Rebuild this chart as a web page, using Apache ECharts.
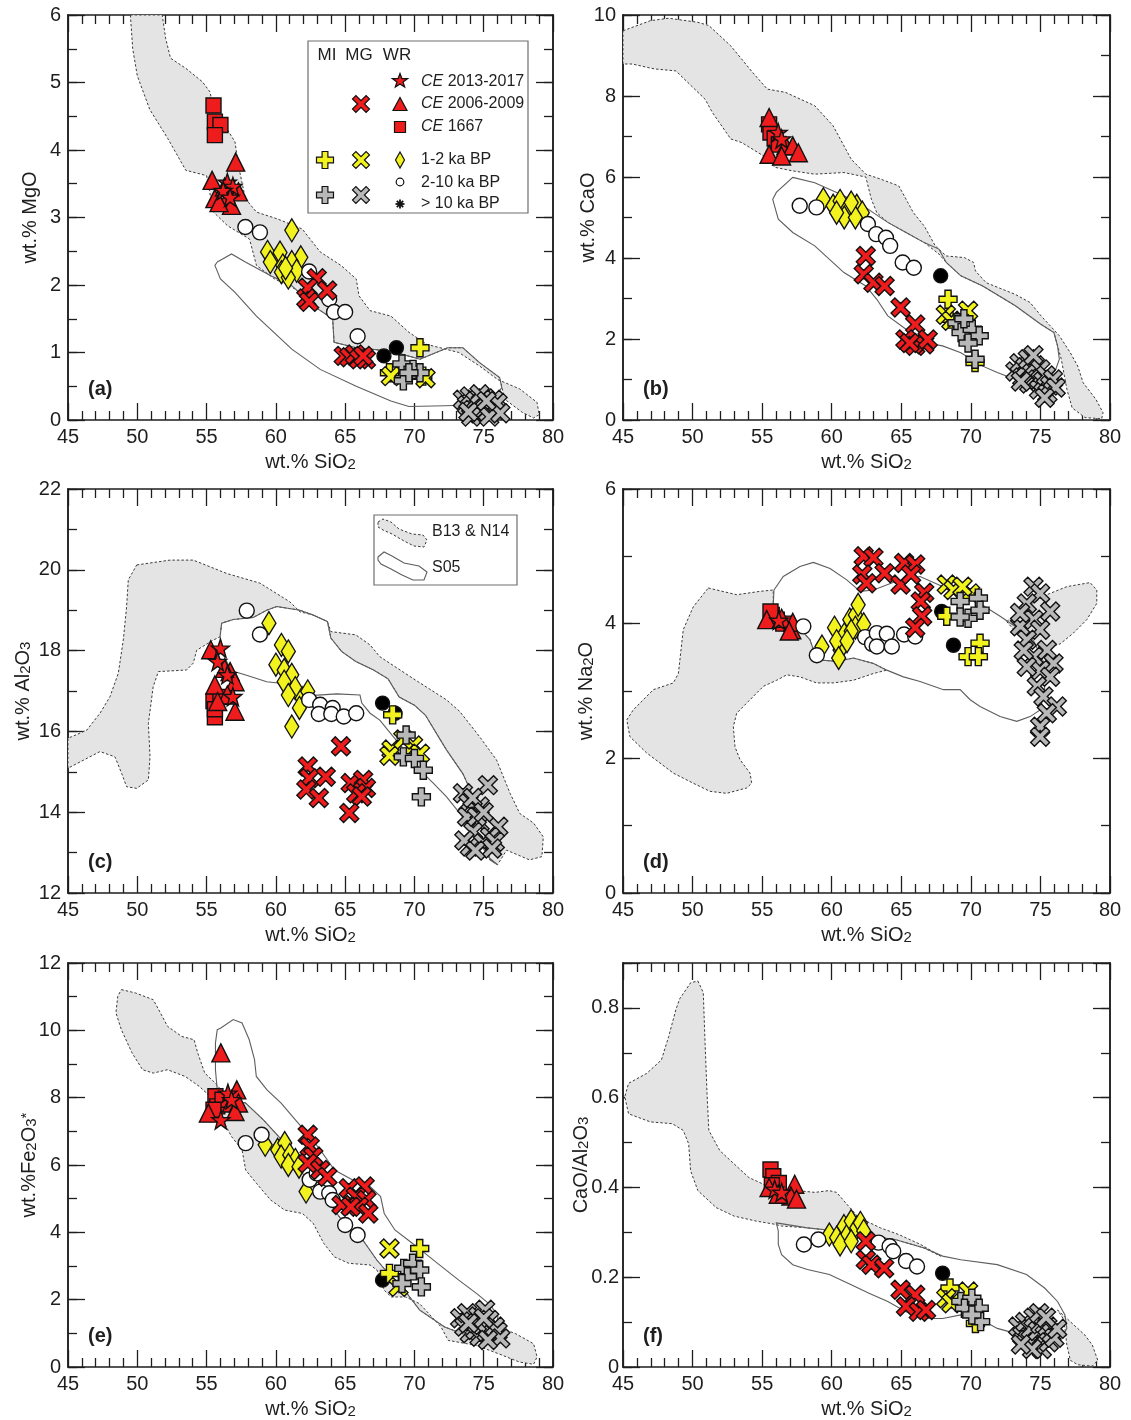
<!DOCTYPE html>
<html>
<head>
<meta charset="utf-8">
<script src="https://cdn.jsdelivr.net/npm/echarts@6/dist/echarts.min.js"></script>
<style>
html,body{margin:0;padding:0;background:#fff}
#chart{width:1131px;height:1420px}
</style>
</head>
<body>
<div id="chart"></div>
<script>
// ---------------- data (wt.% SiO2 vs oxide), one object per sample group, keyed by panel ----------------
const X_RANGE = [45, 80];

// Whole rock (WR)
const WR_CE2013 = {
  a: [[56.5,3.52],[56.9,3.46],[56.2,3.4],[56.7,3.3]],
  b: [[56.15,7.1],[56.4,6.94]],
  c: [[56.0,18.06],[56.5,17.4],[56.9,16.86],[55.8,17.73]],
  d: [[56.2,4.05]],
  e: [[56.03,7.34],[56.54,8.13],[56.8,7.94]],
  f: [[55.9,0.396],[56.4,0.389]]
};
const WR_CE2006 = {
  a: [[55.4,3.55],[57.1,3.82],[55.6,3.28],[56.3,3.45],[56.5,3.28],[56.8,3.18],[57.3,3.38],[55.9,3.22]],
  b: [[55.5,7.47],[56.7,6.77],[57.2,6.77],[57.6,6.6],[55.5,6.56],[56.4,6.52]],
  c: [[55.3,18.02],[56.7,17.48],[57.05,17.23],[55.6,17.15],[56.3,17.56],[57.05,16.5],[56.5,16.9],[55.8,16.74]],
  d: [[57.13,3.91],[57.2,4.02],[55.33,4.06],[56.4,4.08],[56.95,3.89]],
  e: [[56.03,9.33],[57.18,8.23],[56.79,7.84],[57.3,7.84],[55.13,7.54],[57.05,7.59]],
  f: [[57.34,0.407],[55.5,0.4],[57.07,0.381],[57.47,0.374],[56.16,0.385]]
};
const WR_CE1667 = {
  a: [[55.5,4.66],[55.6,4.42],[56.0,4.37],[55.6,4.22]],
  b: [[55.5,7.3],[55.6,7.1],[55.9,6.95],[56.2,6.8]],
  c: [[55.5,16.75],[55.6,16.35],[56.0,16.85],[55.6,16.55]],
  d: [[55.69,4.13],[56.05,4.06],[56.52,4.0],[55.6,4.18]],
  e: [[55.64,8.04],[55.77,7.74],[56.15,7.94],[55.5,7.64]],
  f: [[55.6,0.44],[55.8,0.425],[56.2,0.41],[55.7,0.405]]
};
const WR_1_2KA = {
  a: [[61.15,2.81],[59.4,2.49],[60.3,2.48],[61.8,2.41],[59.6,2.34],[60.5,2.29],[61.15,2.34],[60.4,2.19],[61.5,2.21],[60.9,2.11],[60.7,2.25]],
  b: [[59.4,5.45],[60.1,5.29],[60.6,5.41],[61.1,5.2],[61.8,5.29],[62.2,5.12],[60.9,5.0],[61.7,5.0],[60.35,5.12],[61.4,5.37]],
  c: [[59.5,18.68],[60.4,18.14],[60.9,17.98],[60.0,17.65],[60.6,17.52],[61.15,17.4],[60.6,17.23],[61.4,17.07],[60.9,16.9],[61.9,16.82],[61.7,16.58],[62.3,16.99],[61.15,16.12]],
  d: [[59.3,3.66],[60.2,3.94],[60.6,3.61],[60.9,3.84],[61.3,4.06],[61.7,4.13],[61.7,3.94],[61.9,4.28],[62.3,3.99],[61.4,3.89],[60.35,3.74],[61.1,3.74],[60.5,3.49]],
  e: [[59.23,6.6],[60.13,6.45],[60.64,6.65],[60.38,6.25],[61.0,6.3],[61.41,6.15],[60.9,6.0],[61.67,5.95],[62.18,5.21]],
  f: [[59.83,0.295],[60.35,0.288],[60.88,0.314],[61.14,0.295],[61.4,0.325],[61.8,0.31],[62.06,0.321],[62.3,0.303],[60.6,0.273],[61.4,0.28]]
};
const WR_2_10KA = {
  a: [[57.8,2.86],[58.85,2.78],[62.4,2.2],[63.85,1.79],[64.2,1.6],[65.0,1.6],[65.9,1.24]],
  b: [[57.7,5.29],[58.9,5.25],[62.6,4.84],[63.2,4.59],[63.9,4.5],[64.2,4.3],[65.1,3.89],[65.9,3.76]],
  c: [[57.9,18.99],[58.85,18.4],[62.4,16.78],[63.2,16.66],[63.1,16.43],[64.1,16.58],[64.0,16.43],[64.9,16.37],[65.8,16.45]],
  d: [[57.96,3.96],[58.93,3.53],[62.4,3.8],[62.9,3.7],[63.24,3.86],[63.96,3.85],[63.24,3.66],[64.32,3.66],[65.2,3.84],[66.0,3.81]],
  e: [[57.82,6.65],[58.97,6.9],[62.44,5.56],[62.95,5.75],[63.2,5.21],[63.85,5.16],[64.1,4.96],[65.0,4.22],[65.9,3.92]],
  f: [[58.0,0.273],[59.04,0.284],[63.37,0.277],[64.16,0.269],[64.42,0.258],[65.34,0.236],[66.13,0.224]]
};
const WR_10KA = {
  a: [[67.8,0.95],[68.7,1.07]],
  b: [[67.83,3.56]],
  c: [[67.7,16.7],[68.6,16.45]],
  d: [[67.9,4.18],[68.75,3.68]],
  e: [[67.7,2.58]],
  f: [[67.97,0.209]]
};
// Matrix glass (MG)
const MG_CE2006 = {
  a: [[62.95,2.1],[62.3,1.96],[63.7,1.92],[62.2,1.8],[62.4,1.75],[64.9,0.95],[65.3,0.93],[65.7,0.97],[66.0,0.9],[66.5,0.9],[66.3,0.95]],
  b: [[62.45,4.05],[62.3,3.6],[63.0,3.39],[63.8,3.31],[64.95,2.78],[66.0,2.36],[65.3,1.99],[66.0,1.83],[66.65,1.87],[66.9,1.99],[65.6,1.9]],
  c: [[64.7,15.63],[62.3,15.13],[62.4,14.84],[63.6,14.88],[62.2,14.56],[63.1,14.35],[65.4,14.72],[66.3,14.8],[66.5,14.6],[65.8,14.47],[66.2,14.39],[65.3,13.98]],
  d: [[62.3,5.0],[63.0,4.98],[62.2,4.73],[63.8,4.75],[62.5,4.6],[65.2,4.9],[66.0,4.88],[64.95,4.58],[65.7,4.73],[66.65,4.46],[66.4,4.33],[66.5,4.11],[66.0,3.94]],
  e: [[62.3,6.9],[62.44,6.55],[62.7,6.25],[62.3,6.05],[63.2,5.85],[63.72,5.65],[65.26,5.31],[66.41,5.36],[64.74,4.81],[65.77,5.06],[66.54,4.96],[66.0,4.76],[66.67,4.56],[65.4,4.76]],
  f: [[62.45,0.28],[62.45,0.239],[62.85,0.228],[63.77,0.22],[64.95,0.172],[66.0,0.161],[65.34,0.135],[66.26,0.123],[66.78,0.127]]
};
const MG_1_2KA = {
  a: [[68.3,0.65],[70.8,0.62]],
  b: [[68.2,2.6],[68.6,2.45],[69.8,2.7]],
  c: [[68.35,15.55],[68.2,15.4],[69.9,15.65],[70.4,15.45],[69.2,15.8]],
  d: [[68.27,4.58],[68.75,4.5],[69.95,4.45],[69.4,4.55]],
  e: [[68.2,3.52],[68.85,2.38]],
  f: [[68.23,0.153],[68.6,0.142],[69.8,0.168]]
};
const MG_OLD = {
  a: [[73.5,0.3],[73.8,0.22],[74.0,0.35],[74.2,0.15],[74.4,0.28],[74.6,0.1],[74.8,0.25],[75.0,0.18],[75.1,0.32],[75.3,0.12],[75.5,0.22],[75.7,0.3],[75.9,0.15],[76.0,0.25],[74.1,0.05],[75.4,0.05],[73.9,0.12],[74.7,0.38],[76.2,0.1],[75.2,0.28]],
  b: [[73.2,1.2],[73.5,1.4],[73.7,1.05],[73.9,1.3],[74.1,1.5],[74.2,0.9],[74.4,1.15],[74.6,1.35],[74.8,1.0],[74.9,0.75],[75.0,1.25],[75.2,0.95],[75.4,1.1],[75.5,0.65],[75.7,0.85],[75.9,1.0],[76.1,0.8],[74.5,1.6],[75.3,0.55],[73.6,0.95]],
  c: [[75.3,14.67],[73.5,14.47],[73.9,14.22],[74.7,14.14],[73.8,13.89],[74.7,13.73],[76.05,13.64],[75.45,13.39],[74.25,13.52],[74.0,13.15],[74.96,13.23],[75.8,13.27],[74.5,13.89],[74.2,14.35],[75.0,14.0],[73.6,13.3],[75.6,13.1],[74.4,13.05]],
  d: [[74.5,4.55],[74.98,4.45],[74.02,4.3],[75.7,4.18],[74.5,4.06],[73.54,3.96],[74.98,3.91],[74.02,3.76],[75.46,3.61],[74.5,3.51],[75.94,3.41],[74.98,3.31],[74.02,3.36],[75.7,3.21],[74.74,3.07],[75.22,2.92],[76.18,2.77],[75.46,2.67],[74.98,2.47],[74.98,2.32],[73.54,4.16],[73.8,3.6]],
  e: [[73.3,1.45],[73.6,1.2],[73.8,1.6],[74.0,1.0],[74.2,1.35],[74.4,1.1],[74.6,1.5],[74.7,0.9],[74.9,1.25],[75.1,1.7],[75.2,1.05],[75.4,1.4],[75.6,0.95],[75.8,1.2],[76.0,1.05],[76.2,0.85],[74.5,1.3],[75.0,1.45],[75.3,0.8],[73.9,1.3]],
  f: [[73.4,0.09],[73.7,0.07],[73.9,0.1],[74.1,0.06],[74.3,0.085],[74.5,0.11],[74.6,0.05],[74.8,0.08],[75.0,0.095],[75.1,0.04],[75.3,0.07],[75.5,0.09],[75.6,0.055],[75.8,0.075],[76.0,0.065],[76.2,0.085],[74.4,0.04],[74.9,0.12],[75.4,0.11],[73.6,0.05]]
};
// Melt inclusions (MI)
const MI_1_2KA = {
  a: [[70.4,1.07],[68.2,0.7],[70.6,0.65]],
  b: [[68.36,2.98],[70.3,1.42],[68.5,2.49]],
  c: [[68.43,16.41]],
  d: [[68.27,4.11],[70.66,3.71],[69.8,3.51],[70.54,3.51]],
  e: [[70.38,3.52],[68.2,2.78]],
  f: [[68.5,0.176],[70.33,0.097]]
};
const MI_OLD = {
  a: [[69.1,0.83],[69.9,0.75],[70.4,0.7],[69.2,0.58],[69.6,0.7]],
  b: [[69.0,2.4],[69.3,2.16],[70.1,2.24],[70.6,2.08],[69.8,1.9],[70.3,1.5],[69.5,2.5]],
  c: [[69.4,15.91],[69.2,15.37],[70.0,15.33],[70.64,15.04],[70.5,14.38]],
  d: [[69.23,4.33],[70.54,4.38],[69.8,4.08],[69.23,4.1],[70.66,4.2]],
  e: [[69.23,2.93],[69.87,3.08],[70.38,2.88],[69.49,2.68],[70.5,2.38],[69.1,2.48]],
  f: [[69.28,0.146],[70.07,0.153],[70.6,0.131],[69.54,0.131],[70.7,0.101],[70.07,0.116]]
};

// Literature compositional fields (outline vertices in data units)
const FIELD_B13_N14 = {
  a: [[[49.5,6.0],[49.67,5.5],[50.0,5.1],[50.9,4.6],[52.2,4.17],[53.5,3.7],[55.0,3.62],[55.5,3.08],[56.5,2.88],[58.1,2.68],[58.6,2.29],[59.9,2.09],[61.4,1.94],[62.7,1.69],[64.1,1.5],[64.2,1.15],[65.8,1.07],[68.3,1.02],[70.4,0.9],[72.4,1.07],[73.5,1.07],[74.7,0.85],[76.15,0.63],[76.3,0.5],[76.5,0.31],[77.8,0.11],[78.6,0.03],[79.0,0.08],
       [78.85,0.26],[77.6,0.46],[76.0,0.6],[74.7,0.8],[73.2,1.0],[70.9,1.12],[69.6,1.3],[68.3,1.54],[66.8,1.62],[66.0,1.84],[65.8,2.09],[64.7,2.29],[63.2,2.49],[61.9,2.83],[60.1,2.98],[58.6,3.08],[57.8,3.28],[57.3,3.77],[57.05,4.12],[56.3,4.37],[55.5,4.61],[55.25,4.86],[54.7,5.01],[53.5,5.21],[52.4,5.36],[52.05,5.65],[51.8,6.0]]],
  b: [[[45.0,9.61],[46.97,9.86],[48.28,9.92],[50.38,9.82],[51.17,9.74],[52.74,9.24],[54.32,8.58],[55.37,8.17],[56.68,8.09],[58.78,7.76],[60.09,7.27],[61.4,6.44],[62.45,6.07],[63.5,5.95],[64.82,5.78],[65.87,5.12],[66.65,4.79],[67.44,4.3],[68.23,4.05],[69.54,4.01],[70.2,3.89],[70.33,3.68],[71.1,3.39],[73.2,3.1],[74.26,2.9],[75.05,2.57],[76.36,2.08],[77.15,1.66],[77.68,1.33],[78.07,0.92],[78.99,0.51],[79.5,0.18],[79.4,0.03],
       [78.2,0.06],[77.28,0.3],[76.9,0.76],[76.5,1.5],[76.23,1.83],[75.97,2.16],[75.05,2.36],[73.2,2.82],[70.85,3.31],[69.28,3.56],[68.23,3.89],[67.7,4.1],[66.65,4.38],[65.34,4.63],[64.03,4.88],[63.24,5.12],[62.85,5.45],[62.45,6.0],[60.88,6.11],[58.78,6.07],[57.2,6.15],[55.9,6.24],[55.1,6.52],[53.53,6.85],[52.74,6.94],[51.43,7.59],[50.9,7.92],[48.8,8.62],[47.23,8.67],[45.66,8.79],[45.0,8.79]]],
  c: [[[49.96,20.12],[52.36,20.24],[54.04,20.24],[56.45,19.91],[58.85,19.67],[61.0,19.21],[61.74,18.96],[62.69,18.88],[63.72,18.72],[63.97,18.47],[65.77,18.39],[66.8,18.14],[67.5,17.85],[69.9,17.31],[72.32,16.78],[73.28,16.49],[74.7,15.87],[75.93,15.29],[76.9,14.47],[77.6,13.97],[78.6,13.73],[79.3,13.39],[79.2,12.9],[78.3,12.82],[76.65,13.06],[76.0,12.7],
       [75.45,12.82],[75.1,13.4],[74.5,14.2],[73.5,14.95],[72.3,15.55],[71.5,16.0],[70.8,16.4],[70.0,16.65],[68.9,16.85],[68.1,17.3],[67.05,17.52],[65.77,17.73],[64.74,17.98],[63.97,18.31],[63.72,18.72],[62.69,18.88],[61.74,19.0],[60.06,19.09],[59.34,19.0],[58.37,18.82],[56.93,18.77],[56.09,18.68],[55.97,18.34],
       [55.48,18.26],[54.29,18.01],[54.04,17.69],[53.56,17.52],[51.52,17.48],[51.15,17.11],[50.8,16.2],[50.92,15.37],[50.8,14.8],[49.96,14.59],[49.23,14.63],[48.87,14.96],[48.39,15.37],[47.31,15.5],[45.0,15.09],[45.0,15.83],[46.35,16.03],[47.31,16.45],[48.03,16.86],[48.63,17.44],[48.99,18.26],[49.23,19.09],[49.35,19.75]]],
  d: [[[51.13,4.53],[53.17,4.43],[54.85,4.48],[55.8,4.5],[55.8,4.28],[56.77,4.06],[57.72,3.93],[58.44,3.76],[58.8,3.54],[59.16,3.46],[60.36,3.44],[61.56,3.49],[63.0,3.41],[63.96,3.31],[63.0,3.26],[61.56,3.16],[60.12,3.12],[58.9,3.12],[57.72,3.21],[56.77,3.24],[56.05,3.16],[55.09,3.07],[53.89,2.82],[53.17,2.67],[52.93,2.47],[53.05,2.17],[53.41,1.98],[54.13,1.78],[54.25,1.63],[53.89,1.56],[52.45,1.48],[51.25,1.51],[50.05,1.63],[48.62,1.78],[46.7,2.08],[45.5,2.32],[45.27,2.57],[45.74,2.72],[47.18,3.02],[48.62,3.12],[48.98,3.26],[49.33,3.91],[50.05,4.25]],
      [[72.58,4.03],[73.3,4.16],[75.46,4.43],[76.9,4.55],[78.57,4.61],[79.05,4.5],[79.05,4.3],[78.33,4.06],[77.37,3.86],[76.42,3.7],[75.2,3.62],[74.0,3.75],[73.0,3.93]]],
  e: [[[48.85,11.21],[49.87,11.11],[51.15,10.91],[51.54,10.62],[52.18,10.12],[53.2,9.82],[54.1,9.72],[54.36,9.33],[54.87,8.73],[55.64,8.43],[56.54,7.99],[57.82,7.84],[59.1,7.34],[60.64,6.65],[61.92,5.75],[63.2,5.26],[64.74,4.37],[66.28,3.77],[67.3,3.17],[68.33,2.68],[69.1,2.38],[70.38,1.69],[72.18,1.19],[73.46,0.99],[74.74,0.94],[76.03,1.19],[77.3,0.99],[78.6,0.69],[78.85,0.3],[78.6,0.08],
       [77.56,0.15],[76.03,0.4],[74.49,0.64],[72.44,0.79],[71.92,1.19],[70.38,1.88],[69.36,2.08],[68.33,2.08],[67.82,2.28],[67.3,2.88],[66.8,3.03],[65.26,3.08],[64.23,3.27],[63.46,3.67],[62.69,4.27],[61.92,4.56],[60.64,4.66],[59.62,4.96],[58.59,5.46],[57.82,5.85],[57.56,6.45],[56.79,6.85],[56.03,7.44],[55.51,7.94],[54.49,8.33],[53.46,8.63],[52.18,8.83],[51.15,8.73],[50.38,8.83],[49.62,9.33],[48.85,10.02],[48.46,10.52],[48.59,11.01]]],
  f: [[[50.38,0.86],[50.77,0.834],[50.9,0.721],[51.04,0.609],[51.17,0.527],[51.96,0.482],[53.0,0.452],[54.05,0.422],[55.1,0.407],[56.16,0.396],[57.47,0.393],[58.8,0.389],[59.8,0.393],[60.35,0.389],[60.88,0.37],[61.93,0.333],[63.5,0.31],[64.82,0.295],[66.39,0.273],[67.83,0.247],
       [66.65,0.265],[64.55,0.284],[62.72,0.292],[60.35,0.303],[58.25,0.31],[56.4,0.314],[55.9,0.318],[54.58,0.325],[53.0,0.336],[51.7,0.355],[50.38,0.393],[49.86,0.437],[49.72,0.497],[49.33,0.527],[48.54,0.542],[46.97,0.546],[45.4,0.564],[45.13,0.602],[45.4,0.632],[46.7,0.654],[47.76,0.684],[48.28,0.736],[48.8,0.796],[49.07,0.82],[49.86,0.856]],
      [[76.23,0.127],[77.15,0.101],[78.2,0.071],[78.73,0.049],[79.12,0.015],[78.73,0.002],[77.68,0.005],[77.15,0.015],[76.9,0.049],[76.76,0.086],[76.63,0.108]]]
};
const FIELD_S05 = {
  a: [[55.77,2.34],[56.8,2.46],[57.8,2.34],[59.6,2.14],[61.15,1.99],[62.7,1.69],[64.1,1.5],[64.2,1.15],[65.8,1.07],[68.3,1.02],[70.4,0.9],[72.4,1.07],[73.5,1.07],[74.7,0.85],[76.15,0.63],[76.3,0.48],[75.9,0.36],[75.0,0.23],[72.2,0.21],[69.6,0.2],[68.3,0.28],[65.8,0.5],[63.2,0.75],[61.15,1.05],[58.6,1.54],[57.05,1.89],[56.0,2.09],[55.6,2.29]],
  b: [[57.2,5.99],[58.78,5.86],[60.35,5.62],[61.93,5.37],[62.98,5.12],[64.03,4.88],[65.34,4.63],[66.65,4.38],[67.7,4.22],[68.23,3.89],[69.28,3.56],[70.85,3.31],[73.2,2.82],[75.05,2.36],[75.97,2.16],[76.23,1.83],[76.36,1.5],[76.1,1.25],[75.58,1.0],[74.53,0.92],[73.2,1.0],[71.9,1.17],[70.85,1.33],[69.28,1.66],[67.97,1.83],[66.65,1.91],[65.34,2.24],[64.03,2.57],[63.24,2.98],[62.45,3.31],[60.88,3.64],[58.78,4.3],[57.2,4.63],[56.16,4.96],[55.76,5.45],[56.02,5.62]],
  c: [[55.97,18.34],[56.09,18.68],[56.93,18.77],[58.37,18.82],[59.34,19.0],[60.06,19.09],[61.74,19.0],[62.69,18.88],[63.72,18.72],[63.97,18.31],[64.74,17.98],[65.77,17.73],[67.05,17.52],[68.1,17.3],[68.9,16.85],[70.0,16.65],[70.8,16.4],[71.5,16.0],[72.3,15.55],[73.5,14.95],[74.5,14.2],[75.1,13.4],[75.45,12.82],[76.0,12.7],
      [75.3,12.9],[74.5,13.4],[73.28,13.97],[72.32,14.38],[71.36,14.72],[70.64,14.96],[69.9,15.29],[68.47,15.87],[67.5,16.28],[66.8,16.45],[66.2,16.7],[66.07,16.9],[64.39,16.93],[62.22,16.88],[60.3,17.19],[59.34,17.23],[57.77,17.4],[56.8,17.5],[56.2,17.9]],
  d: [[55.85,4.5],[56.52,4.7],[57.72,4.85],[58.68,4.91],[59.88,4.82],[61.08,4.65],[62.04,4.48],[63.0,4.5],[64.5,4.62],[66.35,4.7],[68.0,4.55],[69.5,4.42],[70.66,4.3],[72.1,4.11],[73.54,3.91],[74.5,3.75],[75.3,3.4],[75.3,3.0],[74.98,2.72],[74.26,2.62],[73.3,2.55],[72.1,2.62],[70.66,2.77],[69.95,2.87],[69.23,3.02],[68.03,3.02],[66.35,3.14],[65.15,3.21],[63.96,3.31],[63.0,3.41],[61.56,3.49],[60.36,3.44],[59.16,3.46],[58.8,3.54],[58.44,3.76],[57.72,3.93],[56.8,4.05],[55.8,4.28]],
  e: [[55.77,10.02],[56.03,10.07],[56.92,10.32],[57.56,10.22],[58.08,9.72],[58.46,9.13],[58.59,8.63],[59.36,8.23],[60.38,7.84],[61.41,7.34],[62.44,6.85],[63.2,6.45],[63.72,6.15],[64.23,5.85],[65.51,5.56],[66.8,5.36],[67.56,5.06],[67.82,4.56],[68.59,4.07],[69.87,3.67],[71.67,3.08],[73.2,2.58],[74.5,2.18],[75.5,1.84],[76.03,1.49],[75.77,1.09],[75.0,0.89],
      [73.46,0.99],[72.18,1.19],[70.38,1.69],[69.1,2.38],[68.33,2.68],[67.3,3.17],[66.28,3.77],[64.74,4.37],[63.2,5.26],[61.92,5.75],[60.64,6.65],[59.1,7.34],[57.82,7.84],[56.54,7.94],[55.77,8.23],[55.64,8.83],[55.64,9.62]],
  f: [[56.02,0.321],[58.25,0.31],[60.35,0.303],[62.72,0.292],[64.55,0.284],[66.65,0.265],[67.97,0.247],[69.28,0.239],[71.9,0.228],[74.0,0.206],[75.3,0.176],[76.23,0.146],[76.76,0.116],[76.9,0.086],[76.63,0.071],[75.84,0.067],[74.53,0.071],[73.2,0.075],[71.9,0.086],[70.6,0.108],[69.28,0.116],[67.97,0.108],[66.65,0.108],[65.34,0.123],[64.03,0.146],[62.72,0.164],[61.4,0.183],[59.83,0.206],[58.25,0.217],[57.2,0.228],[56.4,0.25],[56.16,0.273],[56.16,0.303]]
};

// ---------------- styling ----------------
const FONT = '"Liberation Sans", Arial, Helvetica, sans-serif';
const INK = '#1e1e1e';
const RED = '#ee1c1c';
const YEL = '#f2f21e';
const GRY = '#b8b8b8';

// marker outlines in a 0..100 box
const STAR_PTS = [[50,0],[61.76,33.82],[97.55,34.55],[69.02,56.18],[79.39,90.45],[50,70],[20.61,90.45],[30.98,56.18],[2.45,34.55],[38.24,33.82]];
const PLUS_PTS = [[33,0],[67,0],[67,33],[100,33],[100,67],[67,67],[67,100],[33,100],[33,67],[0,67],[0,33],[33,33]];
const CROSS_PTS = [[0,20],[20,0],[50,30],[80,0],[100,20],[70,50],[100,80],[80,100],[50,70],[20,100],[0,80],[30,50]];
const TRI_PTS = [[50,0],[100,100],[0,100]];
const DIAMOND_PTS = [[50,0],[100,50],[50,100],[0,50]];
const SQUARE_PTS = [[0,0],[100,0],[100,100],[0,100]];
const toPath = pts => 'path://M' + pts.map(p => p.join(',')).join('L') + 'Z';
const STAR = toPath(STAR_PTS);
const PLUS = toPath(PLUS_PTS);
const CROSS = toPath(CROSS_PTS);

const PANELS = [
  { key: 'a', grid: { left: 68,  top: 15,  width: 485, height: 405 }, y: [0, 6, 1, 0.5],   dec: 0, lm: 7, yName: '{t|wt.% MgO}',                      yGap: 28 },
  { key: 'b', grid: { left: 623, top: 15,  width: 487, height: 405 }, y: [0, 10, 2, 1],    dec: 0, lm: 7, yName: '{t|wt.% CaO}',                      yGap: 25 },
  { key: 'c', grid: { left: 68,  top: 489, width: 485, height: 404 }, y: [12, 22, 2, 1],   dec: 0, lm: 7, yName: '{t|wt.% Al}{s|2}{t|O}{s|3}',         yGap: 35 },
  { key: 'd', grid: { left: 623, top: 489, width: 487, height: 404 }, y: [0, 6, 2, 1],     dec: 0, lm: 7, yName: '{t|wt.% Na}{s|2}{t|O}',              yGap: 27 },
  { key: 'e', grid: { left: 68,  top: 963, width: 485, height: 404 }, y: [0, 12, 2, 1],    dec: 0, lm: 7, yName: '{t|wt.%Fe}{s|2}{t|O}{s|3}{p|*}',     yGap: 29 },
  { key: 'f', grid: { left: 623, top: 963, width: 487, height: 404 }, y: [0, 0.9, 0.2, 0.1], dec: 1, lm: 4, yName: '{t|CaO/Al}{s|2}{t|O}{s|3}',       yGap: 32 }
];

const RICH = {
  t: { fontSize: 20, fontFamily: FONT, color: INK, lineHeight: 20 },
  s: { fontSize: 15, fontFamily: FONT, color: INK, verticalAlign: 'bottom', lineHeight: 15, padding: [17, 0, 0, 0] },
  p: { fontSize: 15, fontFamily: FONT, color: INK, verticalAlign: 'top', lineHeight: 15, padding: [0, 0, 17, 0] }
};

// marker groups, drawn in this order
const GROUPS = [
  { data: WR_CE1667, symbol: 'rect',     size: 15,       fill: RED },
  { data: WR_CE2006, symbol: 'triangle', size: 18,       fill: RED },
  { data: WR_CE2013, symbol: STAR,       size: 18,       fill: RED },
  { data: WR_1_2KA,  symbol: 'diamond',  size: [14, 23], fill: YEL },
  { data: WR_2_10KA, symbol: 'circle',   size: 15,       fill: '#ffffff' },
  { data: WR_10KA,   symbol: 'circle',   size: 14,       fill: '#000000' },
  { data: MG_CE2006, symbol: CROSS,      size: 19,       fill: RED },
  { data: MI_1_2KA,  symbol: PLUS,       size: 18,       fill: YEL },
  { data: MG_1_2KA,  symbol: CROSS,      size: 19,       fill: YEL },
  { data: MI_OLD,    symbol: PLUS,       size: 18,       fill: GRY },
  { data: MG_OLD,    symbol: CROSS,      size: 19,       fill: GRY }
];

const axisLine = { onZero: false, lineStyle: { color: INK, width: 1.5 } };
const tickStyle = { color: INK, width: 1.3 };

function xAxes(i) {
  const base = {
    type: 'value', gridIndex: i, min: X_RANGE[0], max: X_RANGE[1], interval: 5,
    axisLine: axisLine, splitLine: { show: false },
    axisTick: { inside: true, length: 17, lineStyle: tickStyle },
    minorTick: { show: true, splitNumber: 5, length: 9, lineStyle: tickStyle },
    minorSplitLine: { show: false }
  };
  return [
    Object.assign({}, base, {
      position: 'bottom',
      axisLabel: { fontSize: 20, fontFamily: FONT, color: INK, margin: 7 },
      name: '{t|wt.% SiO}{s|2}', nameLocation: 'middle', nameGap: 32, nameMoveOverlap: false,
      nameTextStyle: { rich: RICH }
    }),
    Object.assign({}, base, { position: 'top', axisLabel: { show: false } })
  ];
}

function yAxes(i, p) {
  const [min, max, major, minor] = p.y;
  const base = { type: 'value', gridIndex: i, min: min, max: max, axisLine: axisLine, splitLine: { show: false } };
  const fmt = v => {
    const k = v / major;
    if (Math.abs(k - Math.round(k)) > 1e-6) return '';
    return p.dec ? (v === 0 ? '0' : v.toFixed(p.dec)) : String(Math.round(v));
  };
  const majorAxis = pos => Object.assign({}, base, {
    position: pos, interval: major,
    axisTick: { inside: true, length: 17, lineStyle: tickStyle }
  });
  const minorAxis = pos => Object.assign({}, base, {
    position: pos, interval: minor,
    axisTick: { inside: true, length: 9, lineStyle: tickStyle },
    axisLabel: { show: false }
  });
  return [
    Object.assign(majorAxis('left'), {
      axisLabel: { fontSize: 20, fontFamily: FONT, color: INK, margin: p.lm, formatter: fmt },
      name: p.yName, nameLocation: 'middle', nameGap: p.yGap, nameMoveOverlap: false,
      nameTextStyle: { rich: RICH }
    }),
    minorAxis('left'),
    Object.assign(majorAxis('right'), { axisLabel: { show: false } }),
    minorAxis('right')
  ];
}

function fieldSeries(ring, i, style, z) {
  return {
    type: 'custom', xAxisIndex: 2 * i, yAxisIndex: 4 * i, data: ring, silent: true, z: z, clip: true,
    renderItem: (params, api) => {
      if (params.dataIndex !== 0) return null;
      return { type: 'polygon', shape: { points: ring.map(pt => api.coord(pt)) }, style: style };
    }
  };
}

const GREY_FIELD = { fill: '#e4e4e4', stroke: '#3c3c3c', lineWidth: 1, lineDash: [2.5, 2] };
const S05_FIELD = { fill: 'none', stroke: '#5e5e5e', lineWidth: 1.1 };

const grids = [], xAxis = [], yAxis = [], series = [], graphic = [];

PANELS.forEach((p, i) => {
  grids.push(Object.assign({ containLabel: false, outerBoundsMode: 'none' }, p.grid));
  xAxis.push(...xAxes(i));
  yAxis.push(...yAxes(i, p));
  FIELD_B13_N14[p.key].forEach(ring => series.push(fieldSeries(ring, i, GREY_FIELD, 1)));
  series.push(fieldSeries(FIELD_S05[p.key], i, S05_FIELD, 2));
  GROUPS.forEach((g, gi) => {
    series.push({
      type: 'scatter', xAxisIndex: 2 * i, yAxisIndex: 4 * i, z: 3 + gi * 0.01, silent: true,
      symbol: g.symbol, symbolSize: g.size, data: g.data[p.key],
      itemStyle: { color: g.fill, borderColor: '#111', borderWidth: 1.4, opacity: 1 }
    });
  });
  graphic.push({
    type: 'text', z: 50,
    style: { text: '(' + p.key + ')', x: p.grid.left + 20, y: p.grid.top + p.grid.height - 31,
             font: 'bold 20px ' + FONT, fill: INK, verticalAlign: 'middle' }
  });
});

// ---------- legend of sample types (panel a) ----------
function gShape(pts, cx, cy, w, h, fill) {
  return {
    type: 'polygon', z: 101,
    shape: { points: pts.map(p => [cx - w / 2 + p[0] / 100 * w, cy - h / 2 + p[1] / 100 * h]) },
    style: { fill: fill, stroke: '#111', lineWidth: 1.2 }
  };
}
function gLine(x1, y1, x2, y2) {
  return { type: 'line', z: 101, shape: { x1: x1, y1: y1, x2: x2, y2: y2 }, style: { stroke: '#111', lineWidth: 1.8 } };
}
function gText(text, x, y, size, align) {
  return {
    type: 'text', z: 101,
    style: { text: text, x: x, y: y, font: size + 'px ' + FONT, fill: INK, verticalAlign: 'middle', align: align || 'left',
             rich: { i: { fontStyle: 'italic', fontSize: size, fontFamily: FONT, fill: INK } } }
  };
}
const MI_X = 325, MG_X = 361, WR_X = 400, TXT_X = 421;
graphic.push(
  { type: 'rect', z: 100, shape: { x: 308, y: 41, width: 220, height: 172 }, style: { fill: '#fff', stroke: '#6e6e6e', lineWidth: 1.2 } },
  gText('MI', 327, 55, 17, 'center'), gText('MG', 359, 55, 17, 'center'), gText('WR', 397, 55, 17, 'center'),
  gShape(STAR_PTS, WR_X, 81, 16, 15, RED),
  gText('{i|CE} 2013-2017', TXT_X, 82, 16),
  gShape(CROSS_PTS, MG_X, 104, 17, 17, RED),
  gShape(TRI_PTS, WR_X, 104, 14, 13, RED),
  gText('{i|CE} 2006-2009', TXT_X, 104, 16),
  gShape(SQUARE_PTS, WR_X, 127, 11, 11, RED),
  gText('{i|CE} 1667', TXT_X, 127, 16),
  gShape(PLUS_PTS, MI_X, 160, 17, 17, YEL),
  gShape(CROSS_PTS, MG_X, 160, 17, 17, YEL),
  gShape(DIAMOND_PTS, WR_X, 160, 9, 16, YEL),
  gText('1-2 ka BP', TXT_X, 160, 16),
  { type: 'circle', z: 101, shape: { cx: WR_X, cy: 182, r: 3.8 }, style: { fill: '#fff', stroke: '#111', lineWidth: 1.2 } },
  gText('2-10 ka BP', TXT_X, 183, 16),
  gShape(PLUS_PTS, MI_X, 195, 17, 17, GRY),
  gShape(CROSS_PTS, MG_X, 195, 17, 17, GRY),
  gLine(WR_X, 199.5, WR_X, 208.5), gLine(WR_X - 4.5, 204, WR_X + 4.5, 204),
  gLine(WR_X - 3.2, 200.8, WR_X + 3.2, 207.2), gLine(WR_X + 3.2, 200.8, WR_X - 3.2, 207.2),
  gText('> 10 ka BP', TXT_X, 204, 16)
);

// ---------- legend of literature fields (panel c) ----------
graphic.push(
  { type: 'rect', z: 100, shape: { x: 374, y: 515, width: 143, height: 70 }, style: { fill: '#fff', stroke: '#6e6e6e', lineWidth: 1.2 } },
  { type: 'polygon', z: 101, shape: { points: [[378,522],[383,519],[391,522],[399,529],[412,534],[423,535],[427,540],[424,547],[414,546],[404,541],[392,534],[383,530],[378,527]] },
    style: { fill: '#e4e4e4', stroke: '#3c3c3c', lineWidth: 1, lineDash: [2.5, 2] } },
  gText('B13 & N14', 432, 532, 16),
  { type: 'polygon', z: 101, shape: { points: [[378,557],[384,552],[392,556],[404,563],[419,566],[427,572],[424,580],[413,580],[402,575],[391,569],[381,564],[378,560]] },
    style: { fill: 'none', stroke: '#5e5e5e', lineWidth: 1.1 } },
  gText('S05', 432, 568, 16)
);

const chart = echarts.init(document.getElementById('chart'), null, { renderer: 'canvas' });
chart.setOption({
  backgroundColor: '#ffffff',
  animation: false,
  grid: grids, xAxis: xAxis, yAxis: yAxis, series: series, graphic: graphic
});
</script>
</body>
</html>
